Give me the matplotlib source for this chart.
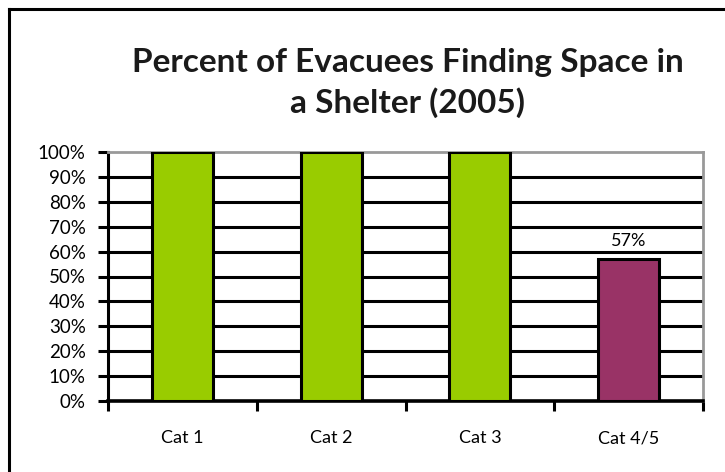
import matplotlib.pyplot as plt
import numpy as np

# values
categories = ["Cat 1", "Cat 2", "Cat 3", "Cat 4/5"]
percent = [100, 100, 100, 57]
bar_colors = ["#99CC00", "#99CC00", "#99CC00", "#993366"]
yticks = list(range(0, 101, 10))
ytick_labels = ["%d%%" % v for v in yticks]

plt.rcParams['font.family'] = ['Lato', 'DejaVu Sans']

fig = plt.figure(figsize=(7.25, 4.72), dpi=100)
ax = fig.add_axes([108/725, 1 - 401/472, 595/725, 249/472])

x = np.arange(len(categories))
ax.bar(x, percent, width=0.41, color=bar_colors, edgecolor="black",
       linewidth=2.2, zorder=3)

# only the last bar carries a value label
ax.text(x[-1], percent[-1] + 4, "%d%%" % percent[-1], ha="center",
        va="bottom", fontsize=13)

ax.set_xlim(-0.5, len(categories) - 0.5)
ax.set_ylim(0, 100)
ax.set_yticks(yticks)
ax.set_yticklabels(ytick_labels, fontsize=13.5)
ax.set_xticks(x)
ax.set_xticklabels(categories, fontsize=13)
ax.tick_params(axis="x", length=0, pad=21)
ax.tick_params(axis="y", length=7, width=2.2, pad=9)

# category boundary ticks below the axis
ax.set_xticks(np.arange(-0.5, len(categories)), minor=True)
ax.tick_params(axis="x", which="minor", length=7, width=2.2, direction="out")

for v in yticks[1:-1]:
    ax.axhline(v, color="black", linewidth=2.2, zorder=1)

ax.spines["left"].set_linewidth(2.2)
ax.spines["bottom"].set_linewidth(2.6)
ax.spines["top"].set_color("#999999")
ax.spines["right"].set_color("#999999")
ax.spines["top"].set_linewidth(2)
ax.spines["right"].set_linewidth(2)

fig.text(408/725, 1 - 83/472, "Percent of Evacuees Finding Space in\na Shelter (2005)",
         ha="center", va="center", fontsize=24, fontweight="bold",
         linespacing=1.38, color="#1a1a1a")

# outer frame (only top and left are inside the crop)
fig.add_artist(plt.Line2D([9/725, 9/725], [0, 1 - 9/472], color="black",
                          linewidth=2.2, transform=fig.transFigure))
fig.add_artist(plt.Line2D([9/725, 1], [1 - 9/472, 1 - 9/472], color="black",
                          linewidth=2.2, transform=fig.transFigure))

plt.savefig("out.png", dpi=100)
